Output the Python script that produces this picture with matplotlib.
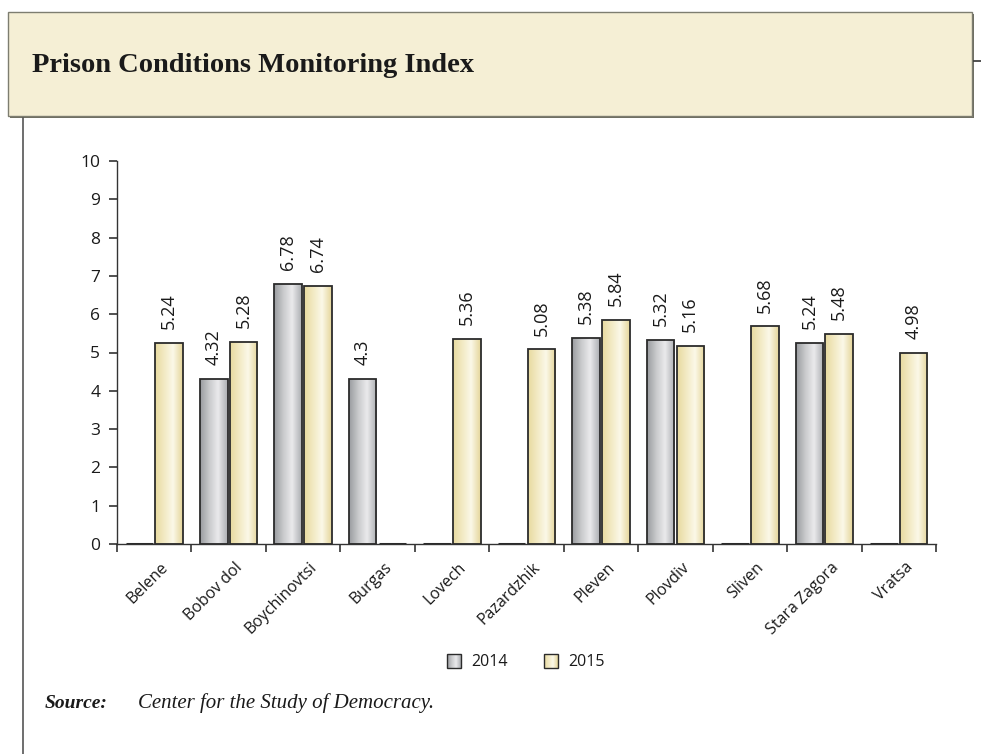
import numpy as np
import matplotlib
matplotlib.use("Agg")
import matplotlib.pyplot as plt
from matplotlib.patches import Rectangle
from matplotlib.colors import LinearSegmentedColormap

# ---------------- data ----------------
categories = ["Belene", "Bobov dol", "Boychinovtsi", "Burgas", "Lovech", "Pazardzhik",
              "Pleven", "Plovdiv", "Sliven", "Stara Zagora", "Vratsa"]
values_2014 = [None, 4.32, 6.78, 4.3, None, None, 5.38, 5.32, None, 5.24, None]
values_2015 = [5.24, 5.28, 6.74, None, 5.36, 5.08, 5.84, 5.16, 5.68, 5.48, 4.98]
series_names = ["2014", "2015"]
y_ticks = list(range(0, 11))
title = "Prison Conditions Monitoring Index"
source_label = "Source:"
source_text = "Center for the Study of Democracy."

# ---------------- style ----------------
W, H, DPI = 981, 754, 100
sans = ["Open Sans", "DejaVu Sans"]
serif = ["Liberation Serif", "DejaVu Serif"]
gray_cmap = LinearSegmentedColormap.from_list(
    "g", [(0, "#9a9ca0"), (0.35, "#cbccce"), (0.65, "#eaeaec"), (1, "#acaeb2")])
yel_cmap = LinearSegmentedColormap.from_list(
    "y", [(0, "#e8da9f"), (0.35, "#f3ebc6"), (0.65, "#fbf8e8"), (1, "#e5d69a")])
cmaps = [gray_cmap, yel_cmap]
grad = np.linspace(0, 1, 64).reshape(1, -1)
edge = "#2b2b2b"
txt = "#1a1a1a"

fig = plt.figure(figsize=(W / DPI, H / DPI), dpi=DPI)
fig.patch.set_facecolor("white")

# overlay for frame elements (pixel coordinates)
ov = fig.add_axes([0, 0, 1, 1], zorder=-1)
ov.set_xlim(0, W)
ov.set_ylim(H, 0)
ov.axis("off")
ov.add_patch(Rectangle((9.5, 13.5), 964, 104, facecolor="#6e6e62", edgecolor="none"))
ov.add_patch(Rectangle((8, 12), 964, 104, facecolor="#f5efd5", edgecolor="#7d7d70", lw=1.0))
ov.plot([974, 981], [61, 61], color="#333333", lw=1.2)
ov.plot([23, 23], [118, H], color="#555555", lw=1.2)
ov.text(32, 65, title, fontfamily=serif, fontweight="bold", fontsize=20.5,
        va="center", ha="left", color=txt)
ov.text(45, 703, source_label, fontfamily=serif, fontweight="bold", style="italic",
        fontsize=14, va="center", ha="left", color=txt)
ov.text(138, 703, source_text, fontfamily=serif, style="italic",
        fontsize=15, va="center", ha="left", color=txt)

# legend
leg_x = [447, 544]
for i, name in enumerate(series_names):
    x0, y0, s = leg_x[i], 654, 14
    ov.imshow(grad, cmap=cmaps[i], extent=(x0, x0 + s, y0 + s, y0), aspect="auto", zorder=2)
    ov.add_patch(Rectangle((x0, y0), s, s, facecolor="none", edgecolor=edge, lw=1.0, zorder=3))
    ov.text(x0 + s + 10, y0 + s / 2 + 0.5, name, fontfamily=sans, fontsize=11.5,
            va="center", ha="left", color=txt)
ov.set_xlim(0, W)
ov.set_ylim(H, 0)

# main axes
left, right = 117 / W, 936 / W
bottom, top = 1 - 544 / H, 1 - 161 / H
ax = fig.add_axes([left, bottom, right - left, top - bottom])
ax.set_facecolor("none")

n = len(categories)
x = np.arange(n)
bw = 0.37
offs = [-0.2, 0.2]
for si, vals in enumerate([values_2014, values_2015]):
    h = [0 if v is None else v for v in vals]
    lws = [2.2 if v is None else 1.3 for v in vals]
    bars = ax.bar(x + offs[si], h, width=bw, facecolor="none", edgecolor=edge,
                  linewidth=lws, zorder=3)
    for b, v in zip(bars, vals):
        if v is None:
            continue
        bx, by, bwid, bh = b.get_x(), b.get_y(), b.get_width(), b.get_height()
        im = ax.imshow(grad, cmap=cmaps[si], extent=(bx, bx + bwid, by, by + bh),
                       aspect="auto", zorder=2, interpolation="bilinear")
        im.set_clip_path(b)
        ax.annotate(f"{v:g}", (bx + bwid / 2, v), xytext=(0, 10),
                    textcoords="offset points", rotation=90, ha="center", va="bottom",
                    fontfamily=sans, fontsize=13, color=txt)

ax.set_xlim(-0.5, n - 0.5)
ax.set_ylim(0, 10)
ax.set_yticks(y_ticks)
ax.set_yticklabels([str(t) for t in y_ticks], fontfamily=sans, fontsize=12.5, color=txt)
ax.set_xticks(x + 0.08)
ax.set_xticklabels(categories, rotation=45, ha="right", rotation_mode="anchor",
                   fontfamily=sans, fontsize=11.5, color=txt)
ax.tick_params(axis="x", which="major", length=0, pad=11)
ax.set_xticks(np.arange(n + 1) - 0.5, minor=True)
ax.tick_params(axis="x", which="minor", length=6, width=1.1, color="#222222", direction="out")
ax.tick_params(axis="y", length=6, width=1.1, color="#222222", pad=6)
for s in ["top", "right"]:
    ax.spines[s].set_visible(False)
for s in ["left", "bottom"]:
    ax.spines[s].set_color("#333333")
    ax.spines[s].set_linewidth(1.0)

fig.savefig("out.png", dpi=DPI, facecolor="white")
